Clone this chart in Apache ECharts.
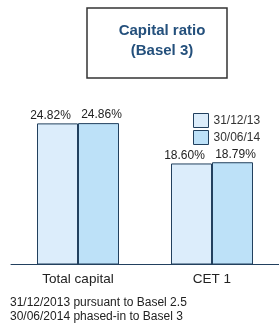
<!DOCTYPE html>
<html>
<head>
<meta charset="utf-8">
<script src="https://cdn.jsdelivr.net/npm/echarts@6/dist/echarts.min.js"></script>
<style>
  html, body { margin: 0; padding: 0; background: #fff; }
  #chart { width: 279px; height: 331px; }
</style>
</head>
<body>
<div id="chart"></div>
<script>
const categories = ['Total capital', 'CET 1'];
const seriesNames = ['31/12/13', '30/06/14'];
const dec2013 = [24.82, 18.60];
const jun2014 = [24.86, 18.79];
const footnotes = ['31/12/2013 pursuant to Basel 2.5', '30/06/2014 phased-in to Basel 3'];

const chart = echarts.init(document.getElementById('chart'));
const font = 'Arial, "Liberation Sans", sans-serif';
const borderCol = '#22405e';

const barSeries = (name, data, fill, dx) => ({
  name: name,
  type: 'bar',
  data: data,
  barWidth: 41,
  barGap: '0%',
  itemStyle: { color: fill, borderColor: borderCol, borderWidth: 1 },
  label: {
    show: true,
    position: 'top',
    distance: 2,
    offset: [dx, 0],
    color: '#222',
    fontFamily: font,
    fontSize: 12,
    formatter: p => p.value.toFixed(2) + '%'
  }
});

chart.setOption({
  animation: false,
  title: {
    text: 'Capital ratio\n(Basel 3)',
    left: 157,
    top: 16,
    textAlign: 'center',
    textStyle: { color: '#24507c', fontFamily: font, fontSize: 15, fontWeight: 'bold', lineHeight: 20 }
  },
  graphic: [
    {
      type: 'rect',
      shape: { x: 87, y: 8, width: 140, height: 70 },
      style: { fill: 'none', stroke: '#333', lineWidth: 1.5 }
    },
    {
      type: 'text',
      left: 10,
      top: 296,
      style: {
        text: footnotes.join('\n'),
        fill: '#222',
        font: '12px ' + font,
        lineHeight: 14
      }
    }
  ],
  legend: {
    orient: 'vertical',
    left: 188,
    top: 108,
    icon: 'rect',
    itemWidth: 15,
    itemHeight: 14,
    itemGap: 2,
    data: seriesNames,
    itemStyle: { borderColor: borderCol, borderWidth: 1 },
    textStyle: { color: '#333', fontFamily: font, fontSize: 12 }
  },
  grid: { left: 11, right: -8, top: 90, bottom: 67 },
  xAxis: {
    type: 'category',
    data: categories,
    axisLine: { lineStyle: { color: borderCol, width: 1 } },
    axisTick: { show: false },
    axisLabel: { color: '#222', fontFamily: font, fontSize: 13.5, margin: 8 }
  },
  yAxis: {
    type: 'value',
    min: 3,
    max: 30,
    show: false,
    splitLine: { show: false }
  },
  series: [
    barSeries(seriesNames[0], dec2013, '#dcedfb', -7),
    barSeries(seriesNames[1], jun2014, '#bde1f8', 3)
  ]
});
</script>
</body>
</html>
